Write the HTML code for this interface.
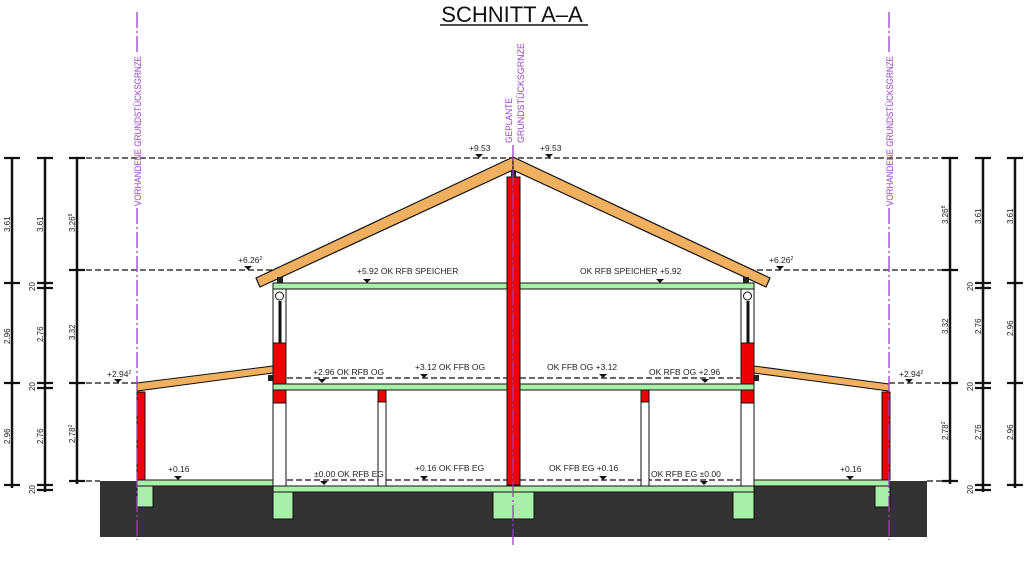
<!DOCTYPE html>
<html><head><meta charset="utf-8"><style>
html,body{margin:0;padding:0;background:#fff;width:1024px;height:562px;overflow:hidden}
svg{display:block}
text{font-family:"Liberation Sans",sans-serif;fill:#222}
.s{font-size:8.5px}
.v{font-size:8px}
.p{fill:#9a3fc8;font-size:9.5px}
</style></head><body>
<svg width="1024" height="562" viewBox="0 0 1024 562" xmlns="http://www.w3.org/2000/svg">
<text x="512" y="22" text-anchor="middle" style="font-size:22px;fill:#111">SCHNITT A–A</text>
<line x1="440" y1="25" x2="588" y2="25" stroke="#111" stroke-width="1.5"/>

<rect x="100" y="481" width="827" height="56" fill="#333"/>
<rect x="280" y="480" width="468" height="6" fill="#fff"/>

<g stroke="#111" stroke-width="1.2" stroke-dasharray="6,3" fill="none">
<line x1="77" y1="158" x2="950" y2="158"/>
<line x1="77" y1="270" x2="277" y2="270"/>
<line x1="748" y1="270" x2="950" y2="270"/>
<line x1="77" y1="383" x2="137" y2="383"/>
<line x1="889" y1="383" x2="950" y2="383"/>
<line x1="77" y1="481" x2="100" y2="481"/>
<line x1="927" y1="481" x2="950" y2="481"/>
<line x1="287" y1="378" x2="507" y2="378"/>
<line x1="520" y1="378" x2="740" y2="378"/>
<line x1="287" y1="480" x2="507" y2="480"/>
<line x1="520" y1="480" x2="740" y2="480"/>
</g>

<g stroke="#111" stroke-width="2.5">
<line x1="12" y1="158" x2="12" y2="488"/>
<line x1="45" y1="158" x2="45" y2="492"/>
<line x1="77" y1="158" x2="77" y2="484"/>
<line x1="950" y1="158" x2="950" y2="484"/>
<line x1="983" y1="158" x2="983" y2="492"/>
<line x1="1015" y1="158" x2="1015" y2="488"/>
</g>
<g stroke="#111" stroke-width="2.2">
<path d="M4 158h16M4 283h16M4 383h16M4 485h16"/>
<path d="M37 158h16M37 283h16M37 288h16M37 383h16M37 388h16M37 485h16M37 490h16"/>
<path d="M69 158h16M69 270h16M69 383h16M69 481h16"/>
<path d="M942 158h16M942 270h16M942 383h16M942 481h16"/>
<path d="M975 158h16M975 283h16M975 288h16M975 383h16M975 388h16M975 485h16M975 490h16"/>
<path d="M1007 158h16M1007 283h16M1007 383h16M1007 485h16"/>
</g>
<g class="v">
<text transform="translate(10,232) rotate(-90)">3.61</text>
<text transform="translate(43,232) rotate(-90)">3.61</text>
<text transform="translate(75,232) rotate(-90)">3.26<tspan font-size="5" dy="-3">8</tspan></text>
<text transform="translate(10,344) rotate(-90)">2.96</text>
<text transform="translate(43,342) rotate(-90)">2.76</text>
<text transform="translate(75,340) rotate(-90)">3.32</text>
<text transform="translate(10,444) rotate(-90)">2.96</text>
<text transform="translate(43,444) rotate(-90)">2.76</text>
<text transform="translate(75,443) rotate(-90)">2.78<tspan font-size="5" dy="-3">2</tspan></text>
<text transform="translate(35,291) rotate(-90)">20</text>
<text transform="translate(35,391) rotate(-90)">20</text>
<text transform="translate(35,494) rotate(-90)">20</text>
<text transform="translate(948,224) rotate(-90)">3.26<tspan font-size="5" dy="-3">8</tspan></text>
<text transform="translate(981,224) rotate(-90)">3.61</text>
<text transform="translate(1013,224) rotate(-90)">3.61</text>
<text transform="translate(948,334) rotate(-90)">3.32</text>
<text transform="translate(981,334) rotate(-90)">2.76</text>
<text transform="translate(1013,336) rotate(-90)">2.96</text>
<text transform="translate(948,440) rotate(-90)">2.78<tspan font-size="5" dy="-3">2</tspan></text>
<text transform="translate(981,440) rotate(-90)">2.76</text>
<text transform="translate(1013,440) rotate(-90)">2.96</text>
<text transform="translate(973,291) rotate(-90)">20</text>
<text transform="translate(973,391) rotate(-90)">20</text>
<text transform="translate(973,494) rotate(-90)">20</text>
</g>

<rect x="137" y="480" width="136" height="6" fill="#a8f0a8" stroke="#111"/>
<rect x="137" y="486" width="16" height="21" fill="#a8f0a8" stroke="#111"/>
<rect x="137" y="392" width="8" height="88" fill="#e00" stroke="#111"/>
<polygon points="137,383 273,366 273,373 137,391" fill="#f0b060" stroke="#111"/>
<rect x="268" y="375" width="5" height="6" fill="#222"/>
<rect x="754" y="480" width="135" height="6" fill="#a8f0a8" stroke="#111"/>
<rect x="875" y="486" width="15" height="21" fill="#a8f0a8" stroke="#111"/>
<rect x="882" y="392" width="8" height="88" fill="#e00" stroke="#111"/>
<polygon points="754,366 889,384 889,391 754,373" fill="#f0b060" stroke="#111"/>
<rect x="754" y="375" width="5" height="6" fill="#222"/>

<rect x="273" y="283" width="481" height="6" fill="#a8f0a8" stroke="#111"/>
<rect x="273" y="384" width="481" height="6" fill="#a8f0a8" stroke="#111"/>
<rect x="273" y="486" width="481" height="6" fill="#a8f0a8" stroke="#111"/>
<rect x="273" y="492" width="20" height="27" fill="#a8f0a8" stroke="#111"/>
<rect x="493" y="492" width="41" height="27" fill="#a8f0a8" stroke="#111"/>
<rect x="733" y="492" width="21" height="27" fill="#a8f0a8" stroke="#111"/>

<g stroke="#111">
<rect x="273" y="289" width="13" height="95" fill="#fff"/>
<rect x="273" y="390" width="13" height="96" fill="#fff"/>
<rect x="273" y="343" width="13" height="41" fill="#e00"/>
<rect x="273" y="390" width="13" height="13" fill="#e00"/>
<rect x="741" y="289" width="13" height="95" fill="#fff"/>
<rect x="741" y="390" width="13" height="96" fill="#fff"/>
<rect x="741" y="343" width="13" height="41" fill="#e00"/>
<rect x="741" y="390" width="13" height="13" fill="#e00"/>
<circle cx="279.5" cy="296" r="4" fill="#fff"/>
<circle cx="747.5" cy="296" r="4" fill="#fff"/>
<rect x="378" y="390" width="8" height="96" fill="#fff"/>
<rect x="378" y="390" width="8" height="12" fill="#e00"/>
<rect x="641" y="390" width="8" height="96" fill="#fff"/>
<rect x="641" y="390" width="8" height="12" fill="#e00"/>
</g>
<rect x="278.5" y="301" width="3" height="42" fill="#111"/>
<rect x="746.5" y="301" width="3" height="42" fill="#111"/>

<rect x="507" y="177" width="13" height="308" fill="#e00" stroke="#111"/>
<rect x="511" y="169" width="5" height="8" fill="#222"/>

<polygon points="513,157 256,278 260,287 513,170" fill="#f0b060" stroke="#111" stroke-width="1.2"/>
<polygon points="513,157 770,278 766,287 513,170" fill="#f0b060" stroke="#111" stroke-width="1.2"/>
<rect x="277" y="277" width="6" height="6" fill="#222"/>
<rect x="743" y="277" width="6" height="6" fill="#222"/>

<g stroke="#9a3fc8" stroke-width="1.3" stroke-dasharray="16,3,2,3">
<line x1="137" y1="12" x2="137" y2="54"/>
<line x1="137" y1="208" x2="137" y2="540"/>
<line x1="889" y1="12" x2="889" y2="54"/>
<line x1="889" y1="208" x2="889" y2="540"/>
<line x1="513" y1="145" x2="513" y2="545"/>
</g>
<text class="p" transform="translate(141,206) rotate(-90)" textLength="150" lengthAdjust="spacingAndGlyphs">VORHANDENE GRUNDSTÜCKSGRNZE</text>
<text class="p" transform="translate(893,206) rotate(-90)" textLength="150" lengthAdjust="spacingAndGlyphs">VORHANDENE GRUNDSTÜCKSGRNZE</text>
<text class="p" transform="translate(512,143) rotate(-90)" textLength="45" lengthAdjust="spacingAndGlyphs">GEPLANTE</text>
<text class="p" transform="translate(524,143) rotate(-90)" textLength="100" lengthAdjust="spacingAndGlyphs">GRUNDSTÜCKSGRNZE</text>

<g fill="#111">
<path d="M475 154h8l-4 4z"/><path d="M545 154h8l-4 4z"/>
<path d="M244 266h8l-4 4z"/><path d="M776 266h8l-4 4z"/>
<path d="M363 279h8l-4 4z"/><path d="M656 279h8l-4 4z"/>
<path d="M114 379h8l-4 4z"/><path d="M905 379h8l-4 4z"/>
<path d="M318 379h8l-4 4z"/><path d="M701 379h8l-4 4z"/>
<path d="M420 374h8l-4 4z"/><path d="M599 374h8l-4 4z"/>
<path d="M174 476h8l-4 4z"/><path d="M846 476h8l-4 4z"/>
<path d="M320 481h8l-4 4z"/><path d="M700 481h8l-4 4z"/>
<path d="M420 476h8l-4 4z"/><path d="M599 476h8l-4 4z"/>
</g>
<g class="s">
<text x="469" y="151">+9.53</text>
<text x="540" y="151">+9.53</text>
<text x="238" y="263">+6.26<tspan font-size="5" dy="-3">2</tspan></text>
<text x="769" y="263">+6.26<tspan font-size="5" dy="-3">2</tspan></text>
<text x="357" y="274">+5.92 OK RFB SPEICHER</text>
<text x="580" y="274">OK RFB SPEICHER  +5.92</text>
<text x="107" y="377">+2.94<tspan font-size="5" dy="-3">2</tspan></text>
<text x="899" y="377">+2.94<tspan font-size="5" dy="-3">2</tspan></text>
<text x="313" y="375">+2.96 OK RFB OG</text>
<text x="415" y="370">+3.12 OK FFB OG</text>
<text x="547" y="370">OK FFB OG  +3.12</text>
<text x="649" y="375">OK RFB OG  +2.96</text>
<text x="168" y="472">+0.16</text>
<text x="840" y="472">+0.16</text>
<text x="314" y="477">±0.00 OK RFB EG</text>
<text x="415" y="471">+0.16 OK FFB EG</text>
<text x="549" y="471">OK FFB EG  +0.16</text>
<text x="651" y="477">OK RFB EG  ±0.00</text>
</g>
</svg>
</body></html>
